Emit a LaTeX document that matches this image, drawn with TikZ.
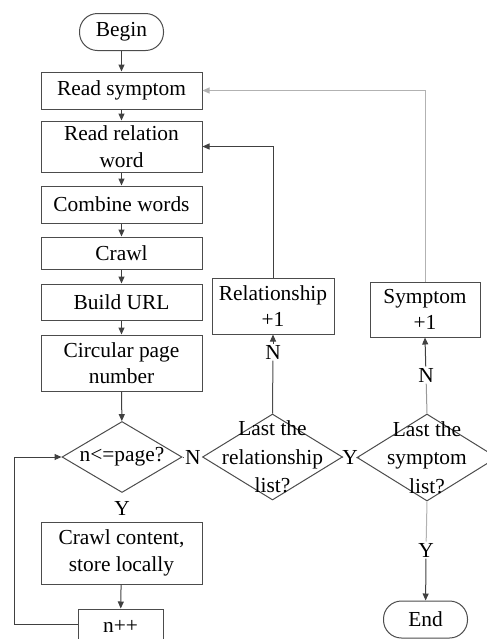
\documentclass[tikz,border=0pt]{standalone}
\usepackage{fontspec}
\setmainfont{Liberation Serif}
\usepackage{tikz}
\usetikzlibrary{shapes.geometric, arrows.meta}

\begin{document}
\begin{tikzpicture}[x=0.5pt,y=-0.5pt,line width=0.5pt,
		every node/.style={font=\fontsize{10.7}{13.3}\selectfont},
		proc/.style={draw=black!70, minimum width=80.5pt, align=center, inner sep=0pt},
		term/.style={draw=black!70, rounded corners=9pt, minimum width=42pt, minimum height=18.5pt, inner sep=0pt},
		dec/.style={diamond, draw=black!70, inner sep=0pt},
		dectext/.style={label={[align=center, font=\fontsize{10.7}{14.2}\selectfont]center:#1}},
		lbl/.style={inner sep=0.5pt},
		flow/.style={draw=black!75, -{Triangle[length=3.5pt,width=3pt]}},
		back/.style={draw=black!30, -{Triangle[length=3.5pt,width=3pt]}}]
		\useasboundingbox (0,0) rectangle (487,639);
		
		% main column
		\node[term] (begin) at (121.5,32) {Begin};
		\node[proc, minimum height=18.5pt] (rsym) at (121.5,90.5) {Read symptom};
		\node[proc, minimum height=25.5pt] (rrel) at (121.5,146.5) {Read relation\\word};
		\node[proc, minimum height=18.5pt] (comb) at (121.5,204.5) {Combine words};
		\node[proc, minimum height=16pt] (crawl) at (121.5,253) {Crawl};
		\node[proc, minimum height=18pt] (url) at (121.5,302) {Build URL};
		\node[proc, minimum height=28pt] (circ) at (121.5,363) {Circular page\\number};
		\node[dec, minimum width=60pt, minimum height=35.5pt, dectext={n<=page?}] (page) at (122,457) {};
		\node[lbl] (y1) at (122,508) {Y};
		\node[proc, minimum height=31pt] (store) at (121.5,553) {Crawl content,\\store locally};
		\node[proc, minimum width=42.5pt, minimum height=17pt] (inc) at (120.5,626) {n++};
		
		% right columns
		\node[dec, minimum width=70pt, minimum height=43pt, dectext={Last the\\relationship\\list?}] (lastrel) at (272.5,457) {};
		\node[dec, minimum width=70pt, minimum height=43.5pt, dectext={Last the\\symptom\\list?}] (lastsym) at (427,457.5) {};
		\node[proc, minimum width=61pt, minimum height=28pt] (relinc) at (273,306) {Relationship\\+1};
		\node[proc, minimum width=55pt, minimum height=27.5pt] (syminc) at (425,309.5) {Symptom\\+1};
		\node[term] (end) at (425.5,619.5) {End};
		\node[lbl, anchor=east] (n1) at (lastrel.west) {N};
		\node[lbl] (y2) at (350,457) {Y};
		\node[lbl] (n2) at (273,352) {N};
		\node[lbl] (n3) at (426,375) {N};
		\node[lbl] (y3) at (426,550) {Y};
		\coordinate (c1) at (14,624);
		\coordinate (c2) at (14,457);
		
		\draw[flow] (begin) -- (rsym);
		\draw[flow] (rsym) -- (rrel);
		\draw[flow] (rrel) -- (comb);
		\draw[flow] (comb) -- (crawl);
		\draw[flow] (crawl) -- (url);
		\draw[flow] (url) -- (circ);
		\draw[flow] (circ) -- (page);
		\draw[flow] (store) -- (inc);
		\draw[flow] (inc.west |- c1) -- (c1) -- (c2) -- (page.west);
		\draw[draw=black!70] (page.east) -- (n1);
		\draw[draw=black!70] (lastrel.east) -- (y2) -- (lastsym.west);
		\draw[draw=black!70] (lastrel.north) -- (n2);
		\draw[flow] (n2) -- (relinc.south);
		\draw[flow] (relinc.north) |- (rrel.east);
		\draw[draw=black!40] (lastsym.north) -- (n3);
		\draw[flow] (n3) -- (syminc.south);
		\draw[back] (syminc.north) |- (rsym.east);
		\draw[draw=black!30] (lastsym.south) -- (y3);
		\draw[flow] (y3) -- (end);
	\end{tikzpicture}
\end{document}
